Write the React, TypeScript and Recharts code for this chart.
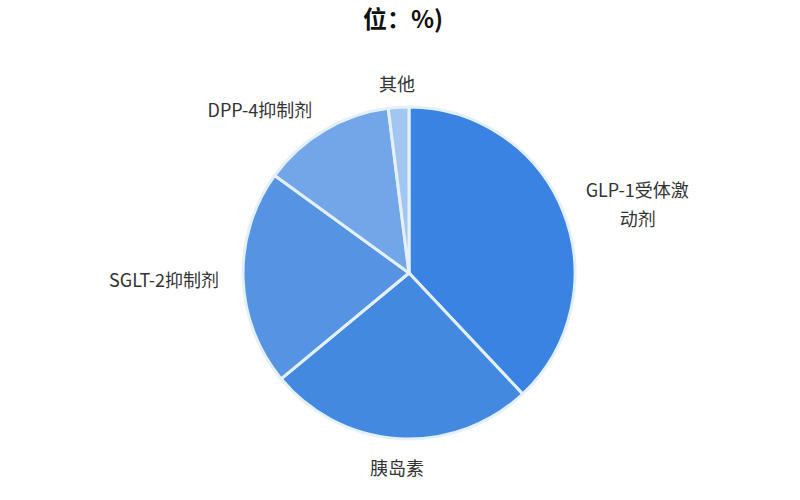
import { PieChart, Pie, Cell } from 'recharts';

// Market share by drug class (unit: %)
const CATEGORIES = ['GLP-1受体激动剂', '胰岛素', 'SGLT-2抑制剂', 'DPP-4抑制剂', '其他'];
const SHARES = [38, 26, 21, 13, 2];
const COLORS = ['#3a83e2', '#4389e0', '#5693e3', '#72a6e9', '#a3c6f0'];

const data = CATEGORIES.map((name, i) => ({ name, value: SHARES[i] }));

const RADIAN = Math.PI / 180;
const FONT = '"Noto Sans CJK SC", "Noto Sans", sans-serif';

// wrap long names after 8 characters, like the source
function splitName(name: string) {
  if (name.length <= 9) return [name];
  return [name.slice(0, 8), name.slice(8)];
}

function renderLabel(props: any) {
  const { cx, cy, midAngle, outerRadius, name } = props;
  const r = outerRadius + 24;
  const cos = Math.cos(-midAngle * RADIAN);
  const sin = Math.sin(-midAngle * RADIAN);
  const x = cx + r * cos;
  const y = cy + r * sin;
  const anchor = Math.abs(cos) < 0.3 ? 'middle' : cos > 0 ? 'start' : 'end';
  const lines = splitName(name);
  const lineH = 29;
  const y0 = y - ((lines.length - 1) * lineH) / 2 + (sin > 0.9 ? 4 : 0);
  return (
    <text
      x={x}
      y={y0}
      textAnchor={anchor}
      dominantBaseline="central"
      fill="#333"
      fontSize={18}
      fontFamily={FONT}
    >
      {lines.map((line, i) => (
        <tspan key={i} x={x} dy={i === 0 ? 0 : lineH}
          textAnchor={i > 0 && anchor === 'start' ? 'middle' : anchor}
          dx={i > 0 && anchor === 'start' ? 52 : 0}>
          {line}
        </tspan>
      ))}
    </text>
  );
}

export default function App() {
  return (
    <div style={{ position: 'fixed', left: 0, top: 0, width: 800, height: 500, background: '#fff' }}>
      <div
        style={{
          position: 'absolute',
          left: 0,
          top: 0,
          width: 806,
          textAlign: 'center',
          fontFamily: FONT,
          fontWeight: 700,
          fontSize: 24,
          color: '#111',
        }}
      >
        位：%)
      </div>
      <PieChart width={800} height={500}>
        <Pie
          data={data}
          dataKey="value"
          nameKey="name"
          cx={404}
          cy={268}
          outerRadius={166}
          startAngle={90}
          endAngle={-270}
          stroke="#e4f1fd"
          strokeWidth={3}
          label={renderLabel}
          labelLine={false}
          isAnimationActive={false}
        >
          {data.map((entry, index) => (
            <Cell key={`cell-${index}`} fill={COLORS[index % COLORS.length]} />
          ))}
        </Pie>
      </PieChart>
    </div>
  );
}
